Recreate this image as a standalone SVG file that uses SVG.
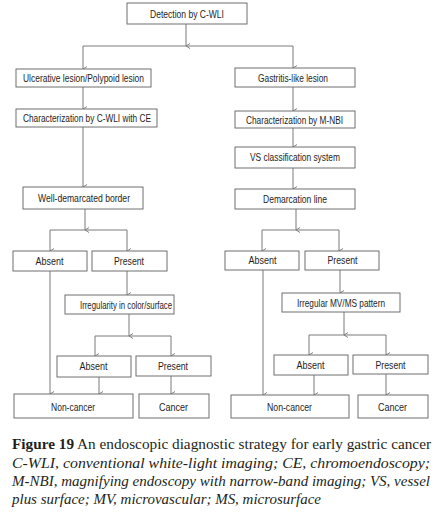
<svg xmlns="http://www.w3.org/2000/svg" width="437" height="513" viewBox="0 0 437 513">
<defs>
<marker id="arr" viewBox="0 0 8 8" refX="4" refY="7.5" markerWidth="8" markerHeight="8" markerUnits="userSpaceOnUse" orient="auto-start-reverse">
<polyline points="1.5,3.5 4,7.5 6.5,3.5" fill="none" stroke="#777" stroke-width="0.9"/>
</marker>
<style>
.box{fill:#fff;stroke:#6f6f6f;stroke-width:1}
.t{font-family:"Liberation Sans",Arial,sans-serif;font-size:11px;fill:#1e1e1e;text-anchor:middle;dominant-baseline:central}
.t2{font-family:"Liberation Sans",Arial,sans-serif;font-size:11.5px;fill:#1e1e1e;text-anchor:middle;dominant-baseline:central}
.c{stroke:#7a7a7a;stroke-width:1;fill:none}
.a{stroke:#7a7a7a;stroke-width:1;fill:none;marker-end:url(#arr)}
.cap{font-family:"Liberation Serif","Times New Roman",serif;font-size:15px;fill:#231f20}
</style>
</defs>
<rect width="437" height="513" fill="#fff"/>

<g id="connectors">
<line class="a" x1="186" y1="24" x2="186" y2="46"/>
<line class="c" x1="83" y1="46" x2="293" y2="46"/>
<line class="a" x1="83" y1="46" x2="83" y2="69"/>
<line class="a" x1="293" y1="46" x2="293" y2="68"/>
<line class="a" x1="83" y1="87" x2="83" y2="109"/>
<line class="a" x1="293" y1="87" x2="293" y2="111"/>
<line class="a" x1="83" y1="127" x2="83" y2="187"/>
<line class="a" x1="293" y1="128" x2="293" y2="147"/>
<line class="a" x1="293" y1="168" x2="293" y2="189"/>
<line class="a" x1="85" y1="209" x2="85" y2="230"/>
<line class="c" x1="50" y1="230" x2="127" y2="230"/>
<line class="a" x1="50" y1="230" x2="50" y2="251"/>
<line class="a" x1="127" y1="230" x2="127" y2="251"/>
<line class="a" x1="296" y1="209" x2="296" y2="230"/>
<line class="c" x1="262" y1="230" x2="339" y2="230"/>
<line class="a" x1="262" y1="230" x2="262" y2="251"/>
<line class="a" x1="339" y1="230" x2="339" y2="251"/>
<line class="a" x1="50" y1="271" x2="50" y2="394"/>
<line class="a" x1="127" y1="271" x2="127" y2="295"/>
<line class="a" x1="129" y1="314" x2="129" y2="336"/>
<line class="c" x1="95" y1="336" x2="171" y2="336"/>
<line class="a" x1="95" y1="336" x2="95" y2="356"/>
<line class="a" x1="171" y1="336" x2="171" y2="356"/>
<line class="a" x1="99" y1="377" x2="99" y2="394"/>
<line class="a" x1="171" y1="376" x2="171" y2="394"/>
<line class="a" x1="263" y1="270" x2="263" y2="395"/>
<line class="a" x1="340" y1="270" x2="340" y2="293"/>
<line class="a" x1="344" y1="312" x2="344" y2="335"/>
<line class="c" x1="309" y1="335" x2="386" y2="335"/>
<line class="a" x1="309" y1="335" x2="309" y2="355"/>
<line class="a" x1="386" y1="335" x2="386" y2="355"/>
<line class="a" x1="314" y1="375" x2="314" y2="395"/>
<line class="a" x1="386" y1="374" x2="386" y2="395"/>
</g>

<g id="detection"><rect class="box" x="127" y="3" width="120" height="21"/><text class="t" x="187" y="14" textLength="74" lengthAdjust="spacingAndGlyphs">Detection by C-WLI</text></g>
<g id="ulcerative"><rect class="box" x="16" y="69" width="135" height="18"/><text class="t" x="83.5" y="78" textLength="121" lengthAdjust="spacingAndGlyphs">Ulcerative lesion/Polypoid lesion</text></g>
<g id="gastritis"><rect class="box" x="235" y="68" width="120" height="19"/><text class="t" x="293" y="78" textLength="70" lengthAdjust="spacingAndGlyphs">Gastritis-like lesion</text></g>
<g id="char-cwli"><rect class="box" x="16" y="109" width="141" height="18"/><text class="t" x="87" y="118" textLength="128" lengthAdjust="spacingAndGlyphs">Characterization by C-WLI with CE</text></g>
<g id="char-mnbi"><rect class="box" x="235" y="111" width="120" height="17"/><text class="t" x="294.5" y="119.5" textLength="97" lengthAdjust="spacingAndGlyphs">Characterization by M-NBI</text></g>
<g id="vs"><rect class="box" x="235" y="147" width="120" height="21"/><text class="t" x="295" y="157" textLength="90" lengthAdjust="spacingAndGlyphs">VS classification system</text></g>
<g id="well"><rect class="box" x="23" y="187" width="120" height="22"/><text class="t" x="84" y="198" textLength="92" lengthAdjust="spacingAndGlyphs">Well-demarcated border</text></g>
<g id="demarcation"><rect class="box" x="235" y="189" width="120" height="20"/><text class="t" x="295" y="198.5" textLength="64" lengthAdjust="spacingAndGlyphs">Demarcation line</text></g>
<g id="absent-l"><rect class="box" x="13" y="251" width="74" height="20"/><text class="t2" x="49.5" y="260.5" textLength="28" lengthAdjust="spacingAndGlyphs">Absent</text></g>
<g id="present-l"><rect class="box" x="92" y="251" width="75" height="20"/><text class="t2" x="129" y="260.5" textLength="30" lengthAdjust="spacingAndGlyphs">Present</text></g>
<g id="absent-r"><rect class="box" x="225" y="251" width="74" height="19"/><text class="t2" x="262.5" y="260" textLength="28" lengthAdjust="spacingAndGlyphs">Absent</text></g>
<g id="present-r"><rect class="box" x="305" y="251" width="74" height="19"/><text class="t2" x="342.5" y="260" textLength="30" lengthAdjust="spacingAndGlyphs">Present</text></g>
<g id="irregularity"><rect class="box" x="65" y="295" width="109" height="19"/><text class="t" x="126" y="305" textLength="92" lengthAdjust="spacingAndGlyphs">Irregularity in color/surface</text></g>
<g id="irregular-mv"><rect class="box" x="282" y="293" width="118" height="19"/><text class="t" x="341" y="302.5" textLength="88" lengthAdjust="spacingAndGlyphs">Irregular MV/MS pattern</text></g>
<g id="absent-l2"><rect class="box" x="57" y="356" width="74" height="21"/><text class="t2" x="93.5" y="366" textLength="28" lengthAdjust="spacingAndGlyphs">Absent</text></g>
<g id="present-l2"><rect class="box" x="136" y="356" width="75" height="20"/><text class="t2" x="173" y="365.5" textLength="30" lengthAdjust="spacingAndGlyphs">Present</text></g>
<g id="absent-r2"><rect class="box" x="274" y="355" width="74" height="20"/><text class="t2" x="310.5" y="364.5" textLength="28" lengthAdjust="spacingAndGlyphs">Absent</text></g>
<g id="present-r2"><rect class="box" x="353" y="355" width="75" height="19"/><text class="t2" x="390.5" y="364.5" textLength="30" lengthAdjust="spacingAndGlyphs">Present</text></g>
<g id="noncancer-l"><rect class="box" x="14" y="394" width="119" height="24"/><text class="t2" x="73" y="406.5" textLength="44" lengthAdjust="spacingAndGlyphs">Non-cancer</text></g>
<g id="cancer-l"><rect class="box" x="139" y="394" width="70" height="24"/><text class="t2" x="173.5" y="406.5" textLength="29" lengthAdjust="spacingAndGlyphs">Cancer</text></g>
<g id="noncancer-r"><rect class="box" x="231" y="395" width="118" height="23"/><text class="t2" x="289.5" y="406.5" textLength="45" lengthAdjust="spacingAndGlyphs">Non-cancer</text></g>
<g id="cancer-r"><rect class="box" x="358" y="395" width="70" height="23"/><text class="t2" x="392.5" y="406.5" textLength="29" lengthAdjust="spacingAndGlyphs">Cancer</text></g>

<g id="caption">
<text class="cap" x="12" y="449" textLength="419" lengthAdjust="spacingAndGlyphs"><tspan font-weight="bold">Figure 19</tspan> An endoscopic diagnostic strategy for early gastric cancer</text>
<text class="cap" x="12" y="467.5" font-style="italic" textLength="418" lengthAdjust="spacingAndGlyphs">C-WLI, conventional white-light imaging; CE, chromoendoscopy;</text>
<text class="cap" x="12" y="486" font-style="italic" textLength="418" lengthAdjust="spacingAndGlyphs">M-NBI, magnifying endoscopy with narrow-band imaging; VS, vessel</text>
<text class="cap" x="12" y="504" font-style="italic" textLength="309" lengthAdjust="spacingAndGlyphs">plus surface; MV, microvascular; MS, microsurface</text>
</g>
</svg>
